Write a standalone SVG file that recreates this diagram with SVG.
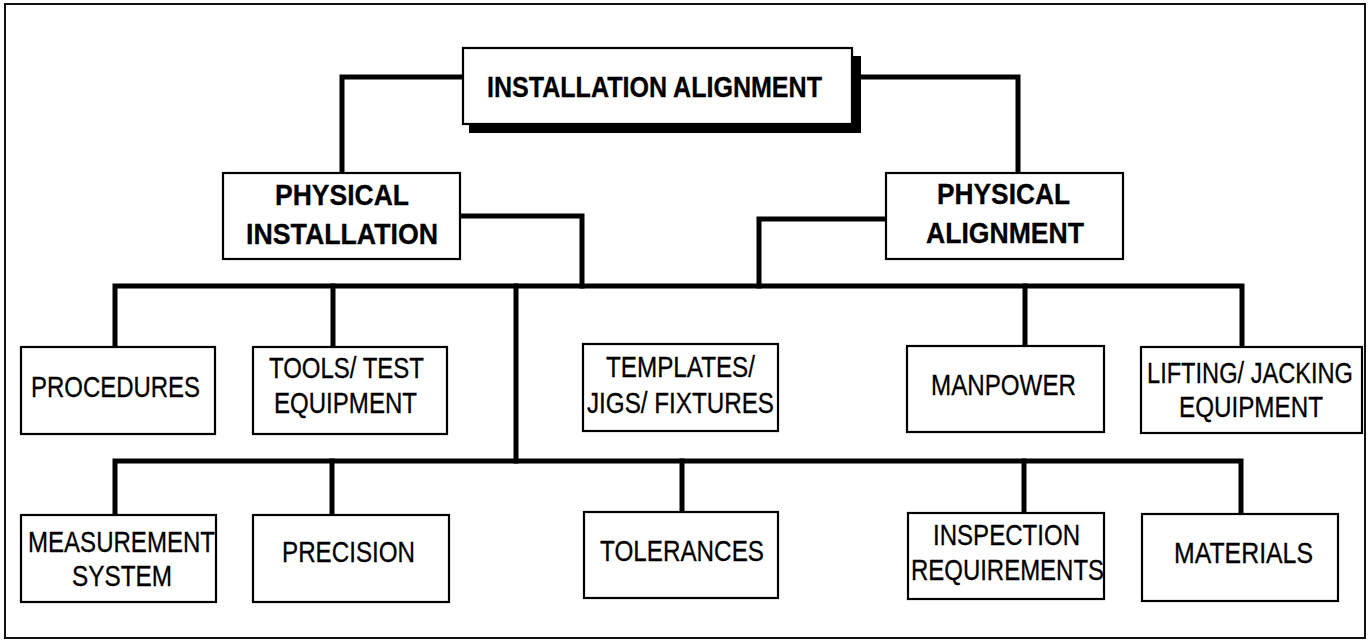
<svg xmlns="http://www.w3.org/2000/svg" width="1369" height="640" viewBox="0 0 1369 640">
<style>
.frame{fill:none;stroke:#111;stroke-width:2}
.box{fill:#fff;stroke:#000;stroke-width:2.2}
.conn{fill:none;stroke:#000;stroke-width:5;stroke-linejoin:miter;stroke-linecap:square}
text{font-family:"Liberation Sans",Arial,sans-serif;font-size:29px;fill:#000;stroke:#000;stroke-width:0.3}
.b{font-weight:bold}
</style>
<rect class="frame" x="5" y="4" width="1360" height="634"/>
<g id="connectors">
<path class="conn" d="M463 77 H342 V173"/>
<path class="conn" d="M852 77 H1018 V173"/>
<path class="conn" d="M460 216 H582 V286"/>
<path class="conn" d="M886 219 H759 V286"/>
<path class="conn" d="M115 347 V286 H1242 V347"/>
<path class="conn" d="M333 286 V347"/>
<path class="conn" d="M1025 286 V346"/>
<path class="conn" d="M516 286 V461"/>
<path class="conn" d="M115 515 V461 H1241 V514"/>
<path class="conn" d="M332 461 V515"/>
<path class="conn" d="M682 461 V512"/>
<path class="conn" d="M1024 461 V513"/>
</g>
<g id="installation-alignment">
<rect x="469" y="56" width="392" height="77" fill="#000"/>
<rect class="box" x="463" y="48" width="389" height="76"/>
<text class="b" x="487" y="97" textLength="335" lengthAdjust="spacingAndGlyphs">INSTALLATION ALIGNMENT</text>
</g>
<g id="physical-installation">
<rect class="box" x="223" y="173" width="237" height="86"/>
<text class="b" x="275" y="205" textLength="134" lengthAdjust="spacingAndGlyphs">PHYSICAL</text>
<text class="b" x="246" y="244" textLength="192" lengthAdjust="spacingAndGlyphs">INSTALLATION</text>
</g>
<g id="physical-alignment">
<rect class="box" x="886" y="173" width="237" height="86"/>
<text class="b" x="937" y="204" textLength="133" lengthAdjust="spacingAndGlyphs">PHYSICAL</text>
<text class="b" x="926" y="243" textLength="158" lengthAdjust="spacingAndGlyphs">ALIGNMENT</text>
</g>
<g id="procedures">
<rect class="box" x="21" y="347" width="194" height="87"/>
<text x="31" y="397" textLength="169" lengthAdjust="spacingAndGlyphs">PROCEDURES</text>
</g>
<g id="tools">
<rect class="box" x="253" y="347" width="194" height="87"/>
<text x="269" y="378" textLength="155" lengthAdjust="spacingAndGlyphs">TOOLS/ TEST</text>
<text x="274" y="413" textLength="143" lengthAdjust="spacingAndGlyphs">EQUIPMENT</text>
</g>
<g id="templates">
<rect class="box" x="583" y="344" width="195" height="87"/>
<text x="606" y="377" textLength="149" lengthAdjust="spacingAndGlyphs">TEMPLATES/</text>
<text x="587" y="413" textLength="187" lengthAdjust="spacingAndGlyphs">JIGS/ FIXTURES</text>
</g>
<g id="manpower">
<rect class="box" x="907" y="346" width="197" height="86"/>
<text x="931" y="395" textLength="145" lengthAdjust="spacingAndGlyphs">MANPOWER</text>
</g>
<g id="lifting">
<rect class="box" x="1141" y="347" width="221" height="86"/>
<text x="1147" y="383" textLength="206" lengthAdjust="spacingAndGlyphs">LIFTING/ JACKING</text>
<text x="1179" y="417" textLength="144" lengthAdjust="spacingAndGlyphs">EQUIPMENT</text>
</g>
<g id="measurement">
<rect class="box" x="21" y="515" width="195" height="87"/>
<text x="28" y="552" textLength="187" lengthAdjust="spacingAndGlyphs">MEASUREMENT</text>
<text x="72" y="586" textLength="100" lengthAdjust="spacingAndGlyphs">SYSTEM</text>
</g>
<g id="precision">
<rect class="box" x="253" y="515" width="196" height="87"/>
<text x="282" y="562" textLength="133" lengthAdjust="spacingAndGlyphs">PRECISION</text>
</g>
<g id="tolerances">
<rect class="box" x="584" y="512" width="194" height="86"/>
<text x="600" y="561" textLength="164" lengthAdjust="spacingAndGlyphs">TOLERANCES</text>
</g>
<g id="inspection">
<rect class="box" x="908" y="513" width="196" height="86"/>
<text x="933" y="545" textLength="147" lengthAdjust="spacingAndGlyphs">INSPECTION</text>
<text x="911" y="580" textLength="193" lengthAdjust="spacingAndGlyphs">REQUIREMENTS</text>
</g>
<g id="materials">
<rect class="box" x="1142" y="514" width="196" height="87"/>
<text x="1174" y="563" textLength="139" lengthAdjust="spacingAndGlyphs">MATERIALS</text>
</g>
</svg>
